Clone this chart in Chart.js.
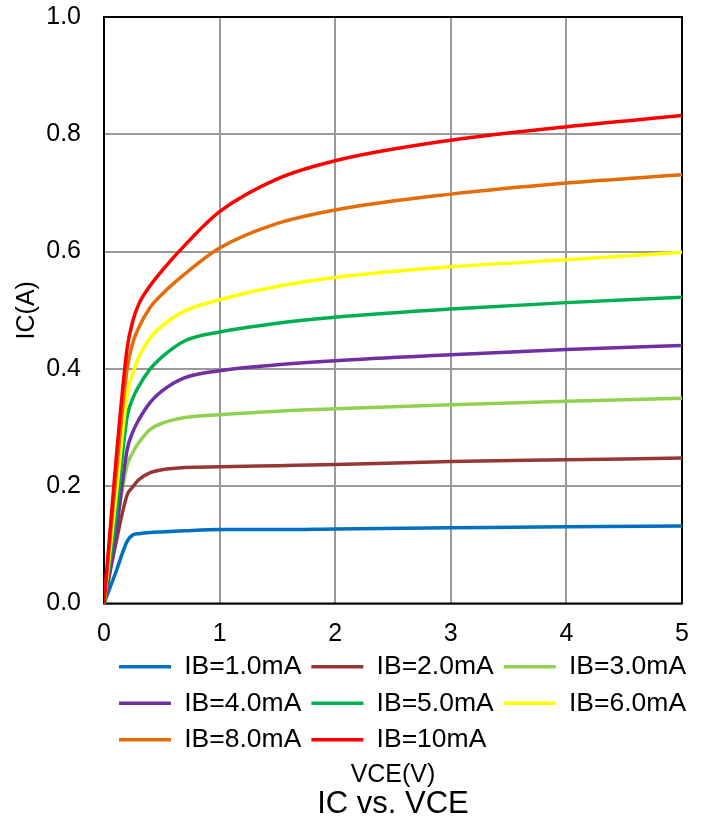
<!DOCTYPE html>
<html>
<head>
<meta charset="utf-8">
<script src="https://cdn.jsdelivr.net/npm/chart.js"></script>
<style>
  html, body { margin: 0; padding: 0; background: #fff; }
  #wrap { width: 706px; height: 826px; }
</style>
</head>
<body>
<div id="wrap"><canvas id="c" width="706" height="826"></canvas></div>
<script>
// ---- data ----
const vce = [0, 0.1, 0.2, 0.25, 0.3, 0.4, 0.5, 0.7, 1, 1.5, 2, 3, 4, 5];
const ib1  = [0, 0.052, 0.106, 0.117, 0.119, 0.121, 0.122, 0.124, 0.126, 0.126, 0.127, 0.129, 0.131, 0.132];
const ib2  = [0, 0.100, 0.185, 0.199, 0.211, 0.223, 0.228, 0.232, 0.233, 0.235, 0.237, 0.242, 0.245, 0.248];
const ib3  = [0, 0.125, 0.235, 0.258, 0.274, 0.297, 0.307, 0.317, 0.322, 0.328, 0.332, 0.339, 0.345, 0.350];
const ib4  = [0, 0.115, 0.262, 0.293, 0.313, 0.343, 0.362, 0.385, 0.397, 0.407, 0.414, 0.424, 0.433, 0.440];
const ib5  = [0, 0.145, 0.318, 0.350, 0.370, 0.400, 0.420, 0.448, 0.463, 0.478, 0.488, 0.502, 0.513, 0.522];
const ib6  = [0, 0.175, 0.355, 0.393, 0.420, 0.453, 0.473, 0.499, 0.518, 0.541, 0.556, 0.574, 0.586, 0.599];
const ib8  = [0, 0.210, 0.400, 0.445, 0.470, 0.505, 0.527, 0.562, 0.606, 0.648, 0.671, 0.698, 0.717, 0.731];
const ib10 = [0, 0.235, 0.435, 0.482, 0.510, 0.542, 0.567, 0.611, 0.668, 0.724, 0.755, 0.790, 0.813, 0.832];

const seriesNames = ['IB=1.0mA', 'IB=2.0mA', 'IB=3.0mA', 'IB=4.0mA', 'IB=5.0mA', 'IB=6.0mA', 'IB=8.0mA', 'IB=10mA'];
const seriesValues = [ib1, ib2, ib3, ib4, ib5, ib6, ib8, ib10];
const seriesColors = ['#0070C0', '#953735', '#92D050', '#7030A0', '#00B050', '#FFFF00', '#E46C0A', '#FF0000'];

const xTicks = [0, 1, 2, 3, 4, 5];
const yTicks = [0.0, 0.2, 0.4, 0.6, 0.8, 1.0];

const chartTitle = 'IC vs. VCE';
const xTitle = 'VCE(V)';
const yTitle = 'IC(A)';

// ---- chart ----
const FONT = 'Arial, "Liberation Sans", sans-serif';

const datasets = seriesNames.map((name, i) => ({
  label: name,
  data: vce.map((x, k) => ({ x: x, y: seriesValues[i][k] })),
  borderColor: seriesColors[i],
  backgroundColor: seriesColors[i],
  borderWidth: 3.5,
  pointRadius: 0,
  pointHoverRadius: 0,
  cubicInterpolationMode: 'monotone',
  borderCapStyle: 'round',
  borderJoinStyle: 'round',
  fill: false,
  order: seriesNames.length - i
}));

const framePlugin = {
  id: 'frame',
  beforeDatasetsDraw(chart) {
    const { ctx, chartArea: a } = chart;
    ctx.save();
    ctx.strokeStyle = '#000';
    ctx.lineWidth = 2;
    ctx.strokeRect(a.left, a.top, a.right - a.left, a.bottom - a.top);
    ctx.restore();
  }
};

const legendShift = {
  id: 'legendShift',
  afterLayout(chart) {
    const lg = chart.legend;
    if (lg) {
      lg.left = chart.chartArea.left + 5;
      lg.right = chart.width;
      lg.width = lg.right - lg.left;
    }
  }
};

new Chart(document.getElementById('c'), {
  type: 'line',
  data: { datasets },
  plugins: [framePlugin, legendShift],
  options: {
    responsive: false,
    devicePixelRatio: 1,
    animation: false,
    layout: { padding: { left: 0, top: 17, right: 24, bottom: 0 } },
    scales: {
      x: {
        type: 'linear',
        min: xTicks[0],
        max: xTicks[xTicks.length - 1],
        afterBuildTicks: (s) => { s.ticks = xTicks.map(v => ({ value: v })); },
        afterFit: (s) => { s.height = 40; s.paddingLeft = 0; s.paddingRight = 0; },
        ticks: {
          color: '#000',
          font: { family: FONT, size: 25 },
          padding: 16,
          maxRotation: 0,
          callback: (v) => String(v)
        },
        grid: { color: '#999999', lineWidth: 2, drawTicks: false },
        border: { display: false }
      },
      y: {
        type: 'linear',
        min: yTicks[0],
        max: yTicks[yTicks.length - 1],
        afterBuildTicks: (s) => { s.ticks = yTicks.map(v => ({ value: v })); },
        afterFit: (s) => { s.width = 104; s.paddingTop = 0; s.paddingBottom = 0; },
        ticks: {
          color: '#000',
          font: { family: FONT, size: 25 },
          padding: 23,
          callback: (v) => Number(v).toFixed(1)
        },
        grid: { color: '#999999', lineWidth: 2, drawTicks: false },
        border: { display: false },
        title: {
          display: true,
          text: yTitle,
          color: '#000',
          font: { family: FONT, size: 25 },
          padding: { top: 12, bottom: 0 }
        }
      }
    },
    plugins: {
      legend: {
        position: 'bottom',
        align: 'start',
        labels: {
          color: '#000',
          font: { family: FONT, size: 26.5 },
          usePointStyle: true,
          pointStyle: 'line',
          pointStyleWidth: 52,
          padding: 10,
          sort: (a, b) => a.datasetIndex - b.datasetIndex
        }
      },
      subtitle: {
        display: true,
        position: 'bottom',
        text: xTitle,
        fullSize: false,
        color: '#000',
        font: { family: FONT, size: 25, weight: 'normal', lineHeight: 1 },
        padding: { top: 0, bottom: 1 }
      },
      title: {
        display: true,
        position: 'bottom',
        text: chartTitle,
        fullSize: false,
        color: '#000',
        font: { family: FONT, size: 31, weight: 'normal', lineHeight: 1 },
        padding: { top: 0, bottom: 6 }
      },
      tooltip: { enabled: false }
    }
  }
});
</script>
</body>
</html>
